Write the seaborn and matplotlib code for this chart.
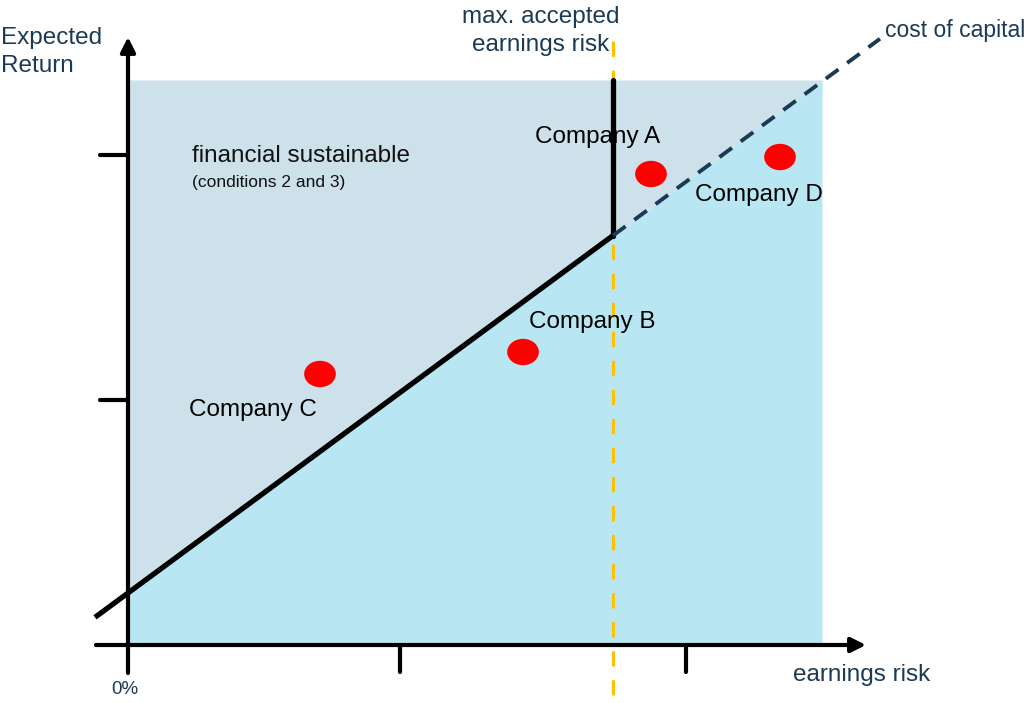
import numpy as np
import pandas as pd
import matplotlib
matplotlib.use("Agg")
import matplotlib.pyplot as plt
from matplotlib.path import Path
import seaborn as sns

# chart coordinates (unitless risk / return)
companies = ["Company A", "Company B", "Company C", "Company D"]
risk = [5.23, 3.95, 1.92, 6.52]
ret = [4.71, 2.93, 2.71, 4.88]

# cost of capital line: return = intercept + slope * risk
coc_intercept = 0.52
coc_slope = 0.737
max_risk = 4.85          # max. accepted earnings risk
area_x = [0.0, 6.94]     # shaded area extent
area_top = 5.65
x_ticks = [2.72, 5.58]
y_ticks = [2.45, 4.90]

NAVY = "#1b3a56"
GREY_BLUE = "#cde1eb"
CYAN = "#b8e7f3"
ORANGE = "#ffc000"

sns.set_style("white")
plt.rcParams["font.family"] = ["Liberation Sans", "DejaVu Sans"]

fig = plt.figure(figsize=(10.24, 7.03), dpi=100)
ax = fig.add_axes([0, 0, 1, 1])
ax.set_xlim(-1.28, 8.96)
ax.set_ylim(-0.58, 6.45)
ax.axis("off")

# shaded regions
xs = np.linspace(area_x[0], area_x[1], 200)
line = coc_intercept + coc_slope * xs
ax.fill_between(xs, line, area_top, color=GREY_BLUE, lw=0, zorder=1)
ax.fill_between(xs, 0, line, color=CYAN, lw=0, zorder=1)

# cost of capital: solid part up to max risk, dashed beyond
x_solid = np.array([-0.33, max_risk])
ax.plot(x_solid, coc_intercept + coc_slope * x_solid, color="black", lw=3.8,
        solid_capstyle="butt", zorder=4)
ax.plot([max_risk, max_risk], [coc_intercept + coc_slope * max_risk, area_top],
        color="black", lw=3.8, zorder=4)
x_dash = np.array([max_risk, 7.52])
ax.plot(x_dash, coc_intercept + coc_slope * x_dash, color=NAVY, lw=2.8,
        dashes=(4, 2.8), zorder=4)

# max accepted earnings risk
ax.plot([max_risk, max_risk], [-0.5, 6.07], color=ORANGE, lw=2.2,
        dashes=(5, 4.5), zorder=3)

# axes with arrows
arrow = dict(arrowstyle="-|>", lw=3, color="black", mutation_scale=22,
             shrinkA=0, shrinkB=0)
ax.annotate("", xy=(0, 6.08), xytext=(0, -0.28), arrowprops=arrow, zorder=5)
ax.annotate("", xy=(7.38, 0), xytext=(-0.32, 0), arrowprops=arrow, zorder=5)
for t in x_ticks:
    ax.plot([t, t], [0, -0.27], color="black", lw=3, zorder=5)
for t in y_ticks:
    ax.plot([-0.28, 0], [t, t], color="black", lw=3, zorder=5)

# companies
df = pd.DataFrame({"company": companies, "risk": risk, "ret": ret})
circ = Path.unit_circle()
ellipse = Path(circ.vertices * np.array([1.2, 1.0]), circ.codes)
sns.scatterplot(data=df, x="risk", y="ret", ax=ax, marker=ellipse, s=520,
                color="#ff0000", edgecolor="none", zorder=6, legend=False)

label_pos = {"Company A": (4.70, 5.08), "Company B": (4.64, 3.23),
             "Company C": (1.25, 2.35), "Company D": (6.31, 4.50)}
for name, (lx, ly) in label_pos.items():
    ax.text(lx, ly, name, fontsize=17.5, ha="center", va="center", color="black", zorder=7)

ax.text(0.64, 4.89, "financial sustainable", fontsize=17.5, ha="left", va="center",
        color="#111111")
ax.text(0.64, 4.63, "(conditions 2 and 3)", fontsize=12.5, ha="left", va="center",
        color="#111111")

ax.text(-1.27, 5.93, "Expected\nReturn", fontsize=17.5, ha="left", va="center",
        color=NAVY, linespacing=1.4)
ax.text(4.13, 6.14, "max. accepted\nearnings risk", fontsize=17.5, ha="center",
        va="center", color=NAVY, linespacing=1.4)
ax.text(7.57, 6.15, "cost of capital", fontsize=16.5, ha="left", va="center", color=NAVY)
ax.text(6.65, -0.3, "earnings risk", fontsize=17.5, ha="left", va="center", color=NAVY)
ax.text(-0.03, -0.45, "0%", fontsize=13.5, ha="center", va="center", color=NAVY)

fig.savefig("out.png", dpi=100)
